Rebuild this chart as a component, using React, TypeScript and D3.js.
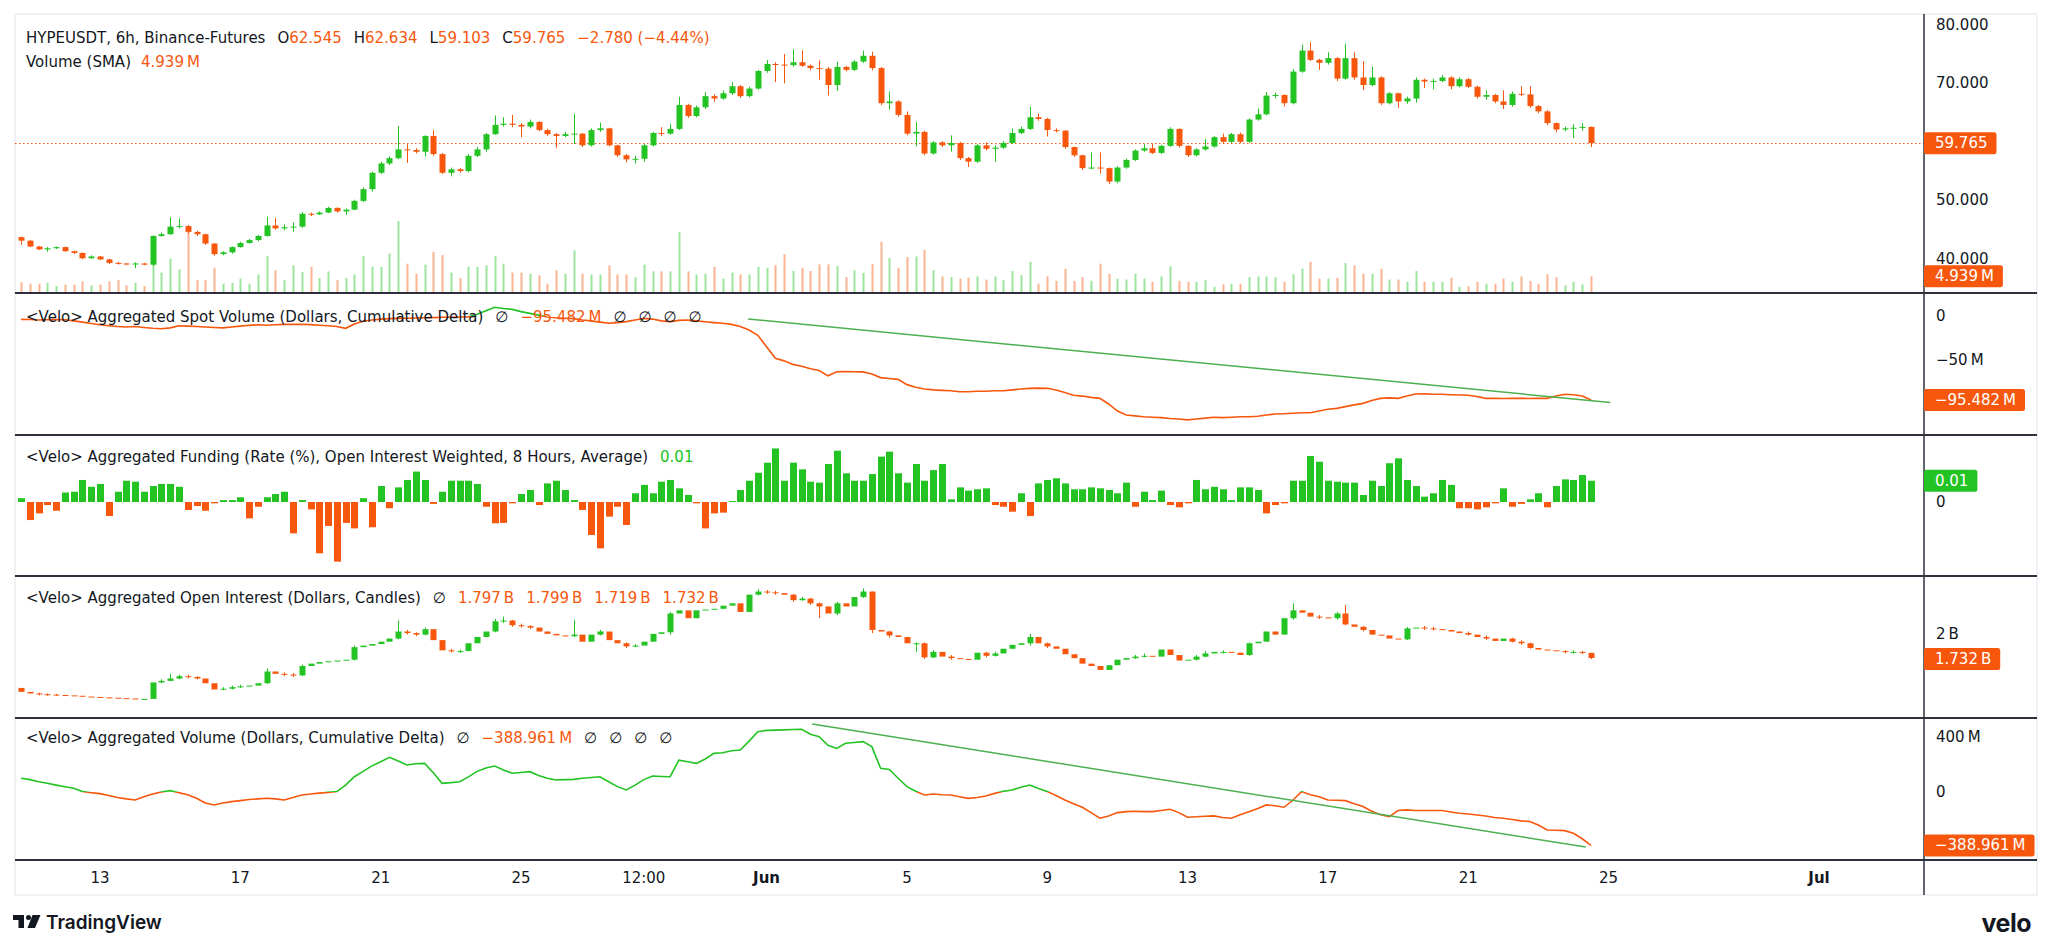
import React from "react";
import * as d3 from "d3";

// ---------------- DATA ----------------
const START_UTC = Date.UTC(2025, 4, 10, 18); // first 6h candle
const BAR_MS = 6 * 3600 * 1000;

const PRICE_OPEN0 = 43.7;
const PRICE_CLOSE = [
  43.1, 42.1, 41.6, 41.8, 42.0, 41.3, 41.0, 40.1, 40.4, 39.9,
  39.3, 39.2, 39.1, 39.2, 39.0, 43.9, 44.2, 45.5, 45.6, 44.6,
  44.2, 42.6, 40.8, 41.1, 42.0, 42.7, 43.2, 43.9, 45.7, 45.2,
  45.4, 45.5, 47.7, 47.6, 47.9, 48.7, 48.1, 48.4, 49.9, 51.9,
  54.7, 56.3, 57.2, 58.7, 58.6, 58.3, 61.0, 57.9, 54.7, 55.3,
  55.0, 57.6, 58.7, 61.3, 62.9, 63.1, 62.9, 62.6, 63.4, 62.0,
  61.3, 61.0, 61.3, 61.4, 59.4, 62.0, 62.3, 59.4, 57.7, 57.0,
  57.1, 59.4, 61.5, 61.4, 62.2, 66.3, 64.4, 65.9, 67.8, 67.4,
  68.3, 69.5, 67.8, 69.1, 72.1, 73.3, 73.2, 73.1, 73.6, 73.0,
  72.6, 72.5, 69.7, 72.8, 72.3, 73.7, 74.7, 72.6, 66.6, 66.9,
  64.6, 61.4, 61.7, 58.0, 59.9, 59.4, 59.8, 57.2, 56.6, 59.4,
  58.8, 59.0, 59.8, 61.5, 62.2, 64.2, 63.9, 62.0, 61.9, 59.1,
  57.7, 55.5, 55.6, 55.5, 53.2, 55.6, 56.9, 58.5, 58.9, 58.1,
  59.3, 62.2, 59.3, 57.7, 58.7, 59.2, 60.8, 60.0, 61.3, 60.0,
  63.8, 64.7, 67.9, 68.0, 66.6, 72.0, 75.6, 74.0, 73.5, 74.3,
  70.8, 74.3, 71.0, 69.7, 71.0, 66.6, 68.3, 66.9, 67.4, 70.6,
  70.3, 70.4, 71.0, 69.5, 70.7, 69.4, 67.7, 68.0, 66.9, 66.3,
  68.2, 68.1, 66.1, 65.2, 63.2, 62.1, 62.3, 62.4, 62.545, 59.765,
];
const PRICE_HIGH = [
  43.8, 43.2, 42.2, 42.0, 42.1, 42.1, 41.4, 41.1, 40.6, 40.5,
  40.0, 39.5, 39.3, 39.4, 39.3, 44.0, 44.5, 47.1, 46.9, 45.8,
  44.8, 44.3, 42.7, 41.3, 42.1, 42.9, 43.4, 44.1, 47.2, 47.0,
  45.9, 46.2, 48.0, 47.9, 48.1, 48.9, 48.8, 48.6, 50.1, 52.2,
  54.9, 56.6, 57.5, 62.7, 59.6, 58.9, 61.1, 62.0, 58.1, 55.6,
  55.5, 57.9, 59.1, 61.5, 64.5, 64.2, 64.6, 63.2, 63.8, 63.5,
  62.2, 61.5, 61.7, 64.8, 61.5, 62.3, 63.3, 62.4, 59.5, 57.9,
  57.6, 59.6, 61.7, 62.5, 63.1, 67.7, 66.5, 66.2, 68.5, 68.1,
  68.8, 70.2, 69.7, 69.4, 72.3, 74.0, 73.6, 75.0, 75.8, 75.6,
  73.2, 73.9, 72.8, 73.7, 73.0, 74.0, 75.6, 75.4, 72.8, 68.6,
  67.1, 65.2, 63.4, 61.9, 60.1, 60.1, 61.1, 60.0, 57.4, 59.6,
  59.9, 59.4, 60.1, 62.3, 62.6, 66.0, 64.8, 64.1, 62.3, 62.0,
  59.2, 57.8, 58.2, 58.2, 55.6, 55.8, 57.1, 58.7, 59.6, 59.7,
  59.5, 62.5, 62.3, 59.4, 58.9, 60.5, 61.0, 61.4, 61.5, 61.6,
  64.0, 65.7, 68.5, 68.4, 68.1, 72.4, 76.6, 77.0, 74.2, 75.3,
  74.5, 76.8, 75.3, 73.8, 72.8, 71.2, 68.5, 68.4, 67.7, 71.0,
  70.8, 70.8, 71.4, 71.2, 71.0, 70.9, 69.6, 68.8, 68.2, 68.8,
  68.6, 69.5, 69.5, 66.3, 65.4, 63.3, 62.6, 63.0, 63.2, 62.634,
];
const PRICE_LOW = [
  42.4, 42.0, 41.5, 41.2, 41.7, 41.2, 40.8, 39.9, 40.0, 39.8,
  39.1, 39.0, 38.9, 38.4, 38.9, 38.8, 43.8, 44.1, 45.2, 44.3,
  43.9, 42.4, 40.5, 40.6, 40.9, 41.9, 42.6, 43.0, 43.8, 45.0,
  44.9, 44.6, 45.3, 47.3, 47.5, 47.8, 47.9, 47.5, 48.3, 49.7,
  51.5, 54.5, 56.0, 57.0, 56.4, 58.0, 57.5, 57.6, 54.5, 54.1,
  54.7, 54.8, 57.4, 58.3, 61.2, 62.6, 62.5, 60.8, 62.3, 61.8,
  61.0, 59.0, 60.8, 59.6, 59.1, 59.2, 61.7, 59.2, 57.4, 56.5,
  56.3, 56.6, 59.2, 61.0, 61.2, 62.0, 64.1, 64.2, 65.6, 66.8,
  67.2, 68.0, 67.5, 67.6, 68.9, 71.8, 70.2, 70.0, 72.8, 72.8,
  72.2, 70.6, 67.9, 68.7, 72.0, 72.1, 73.5, 72.2, 66.3, 65.5,
  64.3, 61.1, 59.2, 57.7, 57.8, 59.1, 58.3, 56.9, 55.7, 56.4,
  58.5, 56.6, 58.8, 59.6, 61.3, 62.0, 63.6, 60.9, 61.6, 58.8,
  57.4, 55.2, 55.3, 54.6, 52.8, 52.9, 55.4, 56.7, 58.3, 57.9,
  57.9, 59.1, 59.0, 57.4, 57.5, 58.5, 59.0, 59.8, 59.8, 59.8,
  59.8, 63.6, 64.5, 67.4, 66.0, 66.4, 71.8, 73.8, 72.3, 73.2,
  70.4, 70.6, 70.6, 68.8, 69.5, 66.3, 66.4, 65.8, 66.5, 66.7,
  69.2, 69.0, 70.2, 69.0, 69.3, 69.2, 67.4, 67.2, 66.6, 65.6,
  66.0, 67.8, 65.8, 64.9, 62.8, 61.6, 61.8, 60.6, 61.9, 59.103,
];
const VOLUME_M = [
  3.1, 2.6, 2.6, 2.9, 1.9, 2.3, 2.3, 3.4, 2.1, 2.3,
  3.4, 3.7, 2.1, 2.9, 1.9, 9.2, 6.1, 10.5, 7.1, 18.9,
  3.7, 3.7, 7.6, 2.6, 2.9, 4.2, 2.6, 5.5, 11.3, 6.8,
  3.7, 8.4, 6.3, 7.9, 4.4, 6.5, 3.7, 4.4, 5.5, 11.3,
  7.9, 7.9, 12.1, 22.3, 8.9, 5.8, 8.6, 12.6, 11.6, 6.1,
  4.4, 7.9, 7.9, 8.4, 11.3, 8.9, 6.1, 6.1, 5.8, 5.3,
  2.6, 6.8, 5.8, 13.1, 5.8, 5.5, 5.5, 8.4, 5.5, 5.5,
  4.7, 8.6, 6.5, 6.5, 6.5, 18.9, 6.5, 5.5, 5.8, 7.9,
  4.2, 6.1, 5.5, 5.5, 7.9, 7.6, 8.4, 11.9, 6.6, 7.6,
  6.6, 8.7, 8.7, 8.2, 4.7, 6.8, 6.0, 8.8, 15.8, 10.7,
  7.6, 11.0, 11.2, 13.2, 6.8, 4.9, 4.7, 4.2, 4.5, 4.9,
  3.9, 4.9, 3.7, 6.6, 5.3, 9.5, 2.6, 4.9, 3.5, 7.3,
  3.5, 4.7, 3.5, 8.9, 5.8, 4.2, 3.9, 5.8, 4.2, 3.2,
  4.9, 8.1, 3.5, 3.2, 3.2, 3.7, 1.6, 2.4, 2.6, 2.6,
  4.7, 4.9, 4.9, 4.7, 3.2, 5.6, 7.3, 9.5, 4.2, 4.2,
  4.5, 9.1, 8.4, 5.8, 5.8, 7.3, 3.9, 3.9, 3.2, 6.6,
  3.2, 3.2, 3.2, 4.5, 1.6, 1.8, 3.2, 2.6, 2.6, 4.2,
  3.2, 4.9, 3.5, 2.6, 5.6, 4.7, 2.1, 3.2, 2.4, 4.939,
];
const SPOT_CVD_M = [
  -3.8, -4.0, -4.5, -4.2, -4.0, -4.2, -5.5, -7.0, -8.5, -10.0,
  -11.0, -12.0, -12.5, -12.0, -13.0, -14.0, -14.5, -13.5, -11.0, -11.5,
  -12.0, -12.5, -13.0, -13.5, -12.5, -11.5, -10.6, -10.0, -10.5, -10.0,
  -9.5, -9.5, -9.3, -9.8, -10.5, -11.0, -12.0, -14.0, -9.0, -6.0,
  -4.5, -3.5, -3.0, -2.7, -2.5, -2.2, -2.0, -1.8, -1.5, -1.5,
  -1.2, -1.0, 2.0, 6.0, 10.0, 8.5, 7.5, 5.0, 3.0, 1.0,
  -1.0, -2.0, -2.5, -3.0, -4.5, -5.5, -7.0, -8.3, -7.5, -6.4,
  -4.5, -2.7, -3.5, -5.5, -6.4, -5.0, -4.5, -5.5, -6.5, -7.5,
  -8.3, -9.5, -12.0, -16.0, -22.0, -35.0, -48.0, -51.0, -55.0, -57.0,
  -60.0, -62.0, -68.0, -63.3, -63.0, -63.3, -63.5, -66.0, -70.0, -71.0,
  -72.0, -78.0, -81.0, -83.0, -84.0, -84.5, -85.0, -86.0, -86.0, -85.5,
  -85.5, -85.0, -84.9, -84.0, -83.0, -82.2, -82.0, -82.2, -84.0, -87.0,
  -90.0, -91.0, -92.5, -93.6, -100.0, -108.0, -112.6, -113.5, -114.5, -115.0,
  -115.5, -116.5, -117.0, -118.0, -117.0, -116.0, -115.0, -115.5, -115.0, -114.5,
  -114.5, -114.0, -112.5, -111.4, -111.0, -110.5, -110.0, -110.0, -108.0, -106.0,
  -105.0, -103.0, -101.0, -99.3, -96.0, -93.6, -93.0, -93.6, -91.0, -88.7,
  -88.5, -89.0, -89.0, -89.5, -89.8, -90.0, -91.5, -93.6, -93.5, -93.8,
  -93.6, -93.5, -93.7, -93.6, -93.6, -91.0, -89.0, -89.5, -91.0, -95.482,
];
const SPOT_TREND_TIME = ["2025-05-31T11:24:00Z", "2025-06-25T01:12:00Z"];
const SPOT_TREND_VALUE = [-3.4, -98.3];

const FUNDING = [
  0.002, -0.0095, -0.006, -0.0016, -0.0046, 0.005, 0.0054, 0.0116, 0.008, 0.0095,
  -0.0074, 0.0054, 0.0112, 0.0107, 0.0054, 0.0084, 0.0095, 0.0095, 0.008, -0.0042,
  -0.0021, -0.0046, -0.0007, 0.001, 0.001, 0.0025, -0.0086, -0.0025, 0.0025, 0.0042,
  0.0054, -0.0165, 0.001, -0.0039, -0.027, -0.0126, -0.0314, -0.011, -0.0139, 0.002,
  -0.0133, 0.0084, -0.0033, 0.0077, 0.0116, 0.016, 0.0116, -0.001, 0.0054, 0.0112,
  0.0112, 0.0112, 0.0095, -0.0025, -0.0112, -0.011, -0.0007, 0.0042, 0.0063, -0.0016,
  0.0098, 0.0112, 0.0063, 0.001, -0.0042, -0.0174, -0.0244, -0.0077, -0.0025, -0.0121,
  0.0046, 0.009, 0.0046, 0.0107, 0.0116, 0.0072, 0.0037, -0.0007, -0.0139, -0.006,
  -0.0056, 0.0005, 0.0063, 0.0112, 0.0154, 0.0207, 0.0282, 0.0112, 0.0207, 0.0172,
  0.0107, 0.0102, 0.02, 0.027, 0.0151, 0.0112, 0.0112, 0.0147, 0.0239, 0.0265,
  0.0151, 0.0102, 0.02, 0.0112, 0.0168, 0.02, 0.0014, 0.0077, 0.006, 0.0067,
  0.0072, -0.0016, -0.0025, -0.0051, 0.0046, -0.0074, 0.0098, 0.0116, 0.0125, 0.0098,
  0.0067, 0.0067, 0.0077, 0.0072, 0.0063, 0.0046, 0.0102, -0.0025, 0.0054, 0.001,
  0.006, -0.0016, -0.0028, -0.0007, 0.0116, 0.0067, 0.008, 0.0067, 0.001, 0.0077,
  0.0077, 0.0063, -0.006, -0.0016, -0.0007, 0.0112, 0.0112, 0.0242, 0.0212, 0.0112,
  0.0107, 0.0102, 0.0102, 0.0037, 0.0112, 0.0084, 0.0204, 0.023, 0.0116, 0.0084,
  0.0028, 0.0046, 0.0116, 0.009, -0.0033, -0.0033, -0.0039, -0.0028, -0.0007, 0.0072,
  -0.0025, -0.001, 0.0014, 0.0046, -0.0028, 0.0084, 0.0119, 0.0116, 0.0142, 0.0112,
];

const OI_OPEN0 = 1.35;
const OI_CLOSE_B = [
  1.3, 1.28, 1.27, 1.265, 1.26, 1.255, 1.25, 1.24, 1.235, 1.23,
  1.225, 1.22, 1.215, 1.21, 1.21, 1.42, 1.44, 1.47, 1.5, 1.49,
  1.47, 1.41, 1.33, 1.34, 1.36, 1.37, 1.38, 1.41, 1.56, 1.53,
  1.52, 1.51, 1.63, 1.66, 1.68, 1.69, 1.7, 1.71, 1.87, 1.89,
  1.91, 1.94, 1.98, 2.07, 2.05, 2.03, 2.1, 1.96, 1.83, 1.82,
  1.82, 1.92, 2.0, 2.07, 2.2, 2.21, 2.15, 2.14, 2.12, 2.07,
  2.04, 2.02, 2.01, 2.03, 1.94, 2.03, 2.07, 1.96, 1.92, 1.88,
  1.89, 1.94, 2.04, 2.06, 2.3, 2.34, 2.24, 2.34, 2.35, 2.36,
  2.4, 2.43, 2.32, 2.54, 2.58, 2.57, 2.56, 2.54, 2.47, 2.49,
  2.43, 2.39, 2.3, 2.43, 2.39, 2.51, 2.58, 2.09, 2.07, 2.02,
  2.0, 1.92, 1.92, 1.74, 1.81, 1.75, 1.73, 1.72, 1.71, 1.8,
  1.76, 1.79, 1.85, 1.9, 1.92, 2.0, 1.92, 1.88, 1.85, 1.78,
  1.73, 1.66, 1.63, 1.58, 1.64, 1.71, 1.73, 1.75, 1.76, 1.75,
  1.84, 1.77, 1.7, 1.71, 1.75, 1.79, 1.81, 1.81, 1.8, 1.77,
  1.92, 1.94, 2.07, 2.03, 2.24, 2.34, 2.31, 2.26, 2.25, 2.24,
  2.3, 2.16, 2.13, 2.09, 2.03, 2.02, 1.98, 1.97, 2.11, 2.12,
  2.11, 2.1, 2.09, 2.07, 2.05, 2.03, 2.0, 1.98, 1.95, 1.98,
  1.94, 1.92, 1.86, 1.84, 1.83, 1.82, 1.81, 1.81, 1.797, 1.732,
];
// visible wicks only: [candle index, high, low]
const OI_WICKS: [number, number, number][] = [
  [2, 1.29, 1.255], [3, 1.28, 1.25], [4, 1.275, 1.25], [16, 1.46, 1.41], [17, 1.53, 1.44],
  [18, 1.52, 1.46], [19, 1.52, 1.47], [20, 1.5, 1.46], [23, 1.36, 1.32], [24, 1.38, 1.33],
  [25, 1.39, 1.35], [28, 1.6, 1.4], [30, 1.55, 1.5], [31, 1.54, 1.49], [32, 1.65, 1.5],
  [38, 1.89, 1.7], [43, 2.21, 1.97], [44, 2.09, 2.03], [45, 2.06, 2.01], [46, 2.12, 2.02],
  [49, 1.85, 1.8], [50, 1.84, 1.8], [54, 2.23, 2.06], [55, 2.26, 2.18], [56, 2.22, 2.13],
  [57, 2.17, 2.12], [58, 2.15, 2.1], [63, 2.22, 2.0], [66, 2.09, 2.02], [69, 1.93, 1.86],
  [70, 1.91, 1.87], [74, 2.32, 2.03], [84, 2.61, 2.53], [85, 2.6, 2.55], [86, 2.59, 2.54],
  [88, 2.55, 2.45], [89, 2.51, 2.46], [90, 2.5, 2.41], [91, 2.44, 2.24], [93, 2.45, 2.28],
  [96, 2.62, 2.5], [97, 2.58, 2.05], [99, 2.08, 1.99], [102, 1.93, 1.81], [103, 1.93, 1.72],
  [104, 1.83, 1.73], [106, 1.77, 1.71], [110, 1.81, 1.74], [111, 1.81, 1.75], [115, 2.04, 1.89],
  [117, 1.93, 1.86], [127, 1.77, 1.72], [128, 1.79, 1.74], [134, 1.77, 1.7], [135, 1.82, 1.74],
  [137, 1.83, 1.79], [140, 1.93, 1.76], [145, 2.43, 2.22], [148, 2.28, 2.23], [150, 2.32, 2.22],
  [151, 2.41, 2.15], [153, 2.14, 2.07], [158, 2.13, 1.96], [160, 2.14, 2.09], [161, 2.13, 2.08],
  [165, 2.07, 2.02], [167, 2.02, 1.96], [170, 1.99, 1.93], [171, 1.96, 1.9], [172, 1.93, 1.85],
  [176, 1.83, 1.79], [177, 1.83, 1.79], [178, 1.82, 1.78], [179, 1.799, 1.719],
];

const AGG_CVD_M = [
  100, 90, 75, 63, 50, 38, 27, 3, -5, -12,
  -25, -40, -50, -58, -35, -14, 0, 10, -5, -20,
  -45, -80, -94, -80, -70, -63, -55, -50, -46, -50,
  -58, -40, -22, -15, -8, -3, 3, 50, 111, 150,
  190, 220, 252, 225, 196, 205, 208, 140, 63, 68,
  75, 110, 150, 175, 189, 160, 136, 142, 148, 120,
  100, 87, 90, 92, 100, 105, 111, 75, 39, 15,
  50, 90, 116, 113, 111, 232, 220, 208, 240, 281,
  285, 300, 305, 370, 439, 448, 450, 452, 455, 456,
  420, 402, 340, 317, 354, 360, 366, 330, 172, 164,
  100, 39, 5, -22, -15, -20, -22, -35, -46, -40,
  -29, -10, 5, 14.5, 35, 51, 25, 3, -25, -58,
  -85, -111, -150, -191, -175, -150, -143, -140, -143, -143,
  -135, -126, -150, -184, -180, -176, -174, -185, -191, -165,
  -143, -120, -94, -100, -111, -60, 3, -20, -34, -58,
  -60, -63, -85, -106, -140, -165, -179, -135, -130, -135,
  -135, -135, -135, -145, -155, -160, -167, -175, -185, -191,
  -200, -210, -215, -240, -276, -278, -281, -300, -340, -388.961,
];
const AGG_TREND_TIME = ["2025-06-02T07:12:00Z", "2025-06-24T08:24:00Z"];
const AGG_TREND_VALUE = [494, -400];

const X_TICK_TIME = [
  "2025-05-13T00:00:00Z", "2025-05-17T00:00:00Z", "2025-05-21T00:00:00Z", "2025-05-25T00:00:00Z",
  "2025-05-28T12:00:00Z", "2025-06-01T00:00:00Z", "2025-06-05T00:00:00Z", "2025-06-09T00:00:00Z",
  "2025-06-13T00:00:00Z", "2025-06-17T00:00:00Z", "2025-06-21T00:00:00Z", "2025-06-25T00:00:00Z",
  "2025-07-01T00:00:00Z",
];
const X_TICK_LABEL = ["13", "17", "21", "25", "12:00", "Jun", "5", "9", "13", "17", "21", "25", "Jul"];

// ticks that are not hidden behind the last-value labels
const PRICE_TICKS = [40, 50, 70, 80];
const SPOT_TICKS = [0, -50];
const FUND_TICKS = [0];
const OI_TICKS = [2];
const AGG_TICKS = [400, 0];

// ---------------- STYLE ----------------
const FONT = "'DejaVu Sans', Verdana, sans-serif";
const GREEN = "#22c322";
const ORANGE = "#f7570d";
const TEXT = "#131722";
const SEP = "#2f323d";

const PLOT_LEFT = 15;
const AXIS_X = 1924;
const FRAME_RIGHT = 2037;
const MAIN = [14, 293];
const SPOT = [293, 435];
const FUND = [435, 576];
const OIP = [576, 718];
const AGG = [718, 860];

let measureCtx: CanvasRenderingContext2D | null = null;
function measure(s: string, size = 15, weight: string | number = "normal") {
  if (!measureCtx && typeof document !== "undefined") {
    measureCtx = document.createElement("canvas").getContext("2d");
  }
  if (!measureCtx) return s.length * size * 0.6;
  measureCtx.font = `${weight} ${size}px 'DejaVu Sans'`;
  return measureCtx.measureText(s).width;
}

const MINUS = "\u2212";
const NNBSP = "\u202F";
const sgn = (v: number) => (v < 0 ? MINUS : "");
const fmtUnit = (v: number, unit: string, dec = 3) =>
  v === 0 ? "0" : `${sgn(v)}${Math.abs(v).toFixed(dec)}${NNBSP}${unit}`;
const fmtTickUnit = (v: number, unit: string) =>
  v === 0 ? "0" : `${sgn(v)}${Math.abs(v)}${NNBSP}${unit}`;

type Part = { t: string; c?: string; gap?: number };
function Legend({ x, y, parts }: { x: number; y: number; parts: Part[] }) {
  let cx = x;
  const items = parts.map((p, k) => {
    cx += p.gap ?? 0;
    const el = (
      <text key={k} x={cx} y={y} fill={p.c ?? TEXT}>
        {p.t}
      </text>
    );
    cx += measure(p.t);
    return el;
  });
  return (
    <g fontFamily={FONT} fontSize={15}>
      {items}
    </g>
  );
}

function AxisLabel({ y, text, bg }: { y: number; text: string; bg: string }) {
  const w = measure(text) + 20;
  return (
    <g>
      <rect x={AXIS_X} y={y - 11} width={w} height={22} rx={2.5} fill={bg} />
      <text x={AXIS_X + 11} y={y} dominantBaseline="central" fill="#ffffff" fontFamily={FONT} fontSize={15}>
        {text}
      </text>
    </g>
  );
}

function Ticks({ vals, y, fmt, bounds }: { vals: number[]; y: (v: number) => number; fmt: (v: number) => string; bounds: number[] }) {
  return (
    <g fontFamily={FONT} fontSize={15} fill={TEXT}>
      {vals
        .filter((v) => y(v) > bounds[0] + 8 && y(v) < bounds[1] - 8)
        .map((v) => (
          <text key={v} x={AXIS_X + 12} y={y(v)} dominantBaseline="central">
            {fmt(v)}
          </text>
        ))}
    </g>
  );
}

function Candles({
  xs, y, open0, close, high, low, bodyW = 6,
}: {
  xs: (i: number) => number; y: (v: number) => number; open0: number; close: number[];
  high: (number | null)[]; low: (number | null)[]; bodyW?: number;
}) {
  return (
    <g>
      {close.map((c, i) => {
        const o = i === 0 ? open0 : close[i - 1];
        const up = c >= o;
        const col = up ? GREEN : ORANGE;
        const cx = Math.round(xs(i));
        const yTop = y(Math.max(o, c));
        const yBot = y(Math.min(o, c));
        const h = Math.max(1, yBot - yTop);
        const hi = high[i];
        const lo = low[i];
        return (
          <g key={i}>
            {hi != null && lo != null && (
              <line x1={cx + 0.5} x2={cx + 0.5} y1={y(hi)} y2={y(lo)} stroke={col} strokeWidth={1} />
            )}
            <rect x={cx + 0.5 - bodyW / 2} y={yTop} width={bodyW} height={h} fill={col} />
          </g>
        );
      })}
    </g>
  );
}

function CvdLine({
  id, xs, y, values, bounds,
}: { id: string; xs: (i: number) => number; y: d3.ScaleLinear<number, number>; values: number[]; bounds: number[] }) {
  const zero = y(0);
  const d = d3
    .line<number>()
    .x((_, i) => xs(i))
    .y((v) => y(v))(values) as string;
  return (
    <g>
      <clipPath id={id + "P"}>
        <rect x={PLOT_LEFT} y={bounds[0]} width={AXIS_X - PLOT_LEFT} height={Math.max(0, zero - bounds[0])} />
      </clipPath>
      <clipPath id={id + "N"}>
        <rect x={PLOT_LEFT} y={zero} width={AXIS_X - PLOT_LEFT} height={Math.max(0, bounds[1] - zero)} />
      </clipPath>
      <path d={d} fill="none" stroke={GREEN} strokeWidth={1.6} clipPath={`url(#${id}P)`} />
      <path d={d} fill="none" stroke={ORANGE} strokeWidth={1.6} clipPath={`url(#${id}N)`} />
    </g>
  );
}

export default function App() {
  const n = PRICE_CLOSE.length;
  const t = (i: number) => new Date(START_UTC + i * BAR_MS);
  const x = d3.scaleUtc().domain([t(0), t(n - 1)]).range([21.1, 1591]);
  const xs = (i: number) => x(t(i));

  const priceY = d3.scaleLinear().domain([40, 80]).range([258.8, 24.8]);
  const volY = d3.scaleLinear().domain([0, 4.939]).range([292, 276.3]);
  const spotY = d3.scaleLinear().domain([-50, 0]).range([360, 316]);
  const fundY = d3.scaleLinear().domain([0, 0.01]).range([502, 483]);
  const oiY = d3.scaleLinear().domain([1.732, 2]).range([658, 637]);
  const aggY = d3.scaleLinear().domain([0, 400]).range([792, 737]);

  const last = n - 1;
  const lastOpen = PRICE_CLOSE[last - 1];
  const lastClose = PRICE_CLOSE[last];
  const chg = lastClose - lastOpen;
  const chgPct = (chg / lastOpen) * 100;

  const oiHigh: (number | null)[] = OI_CLOSE_B.map(() => null);
  const oiLow: (number | null)[] = OI_CLOSE_B.map(() => null);
  OI_WICKS.forEach(([i, h, l]) => {
    oiHigh[i] = h;
    oiLow[i] = l;
  });
  const oiOpenLast = OI_CLOSE_B[last - 1];

  const clipRect = (id: string, b: number[]) => (
    <clipPath id={id}>
      <rect x={PLOT_LEFT} y={b[0]} width={AXIS_X - PLOT_LEFT} height={b[1] - b[0]} />
    </clipPath>
  );

  const spotTrendD = d3
    .line<number>()
    .x((_, k) => x(new Date(SPOT_TREND_TIME[k])))
    .y((v) => spotY(v))(SPOT_TREND_VALUE) as string;
  const aggTrendD = d3
    .line<number>()
    .x((_, k) => x(new Date(AGG_TREND_TIME[k])))
    .y((v) => aggY(v))(AGG_TREND_VALUE) as string;

  const lastFund = FUNDING[last];

  return (
    <svg
      width={2048}
      height={946}
      viewBox="0 0 2048 946"
      style={{ position: "absolute", left: 0, top: 0, background: "#ffffff" }}
    >
      <defs>
        {clipRect("cMain", MAIN)}
        {clipRect("cSpot", SPOT)}
        {clipRect("cFund", FUND)}
        {clipRect("cOi", OIP)}
        {clipRect("cAgg", AGG)}
      </defs>
      <rect x={0} y={0} width={2048} height={946} fill="#ffffff" />
      <rect x={PLOT_LEFT} y={14} width={FRAME_RIGHT - PLOT_LEFT} height={895 - 14} fill="none" stroke="#e0e3eb" strokeWidth={1} />

      {/* ---------- main panel ---------- */}
      <g clipPath="url(#cMain)">
        {VOLUME_M.map((v, i) => {
          const o = i === 0 ? PRICE_OPEN0 : PRICE_CLOSE[i - 1];
          const up = PRICE_CLOSE[i] >= o;
          const cx = Math.round(xs(i));
          return (
            <rect
              key={i}
              x={cx - 0.5}
              y={volY(v)}
              width={2}
              height={volY(0) - volY(v)}
              fill={up ? GREEN : ORANGE}
              opacity={0.45}
            />
          );
        })}
        <line
          x1={PLOT_LEFT}
          x2={AXIS_X}
          y1={Math.round(priceY(lastClose)) + 0.5}
          y2={Math.round(priceY(lastClose)) + 0.5}
          stroke={ORANGE}
          strokeWidth={1}
          strokeDasharray="1.5 2.5"
        />
        <Candles xs={xs} y={priceY} open0={PRICE_OPEN0} close={PRICE_CLOSE} high={PRICE_HIGH} low={PRICE_LOW} />
      </g>

      {/* ---------- spot CVD ---------- */}
      <g clipPath="url(#cSpot)">
        <CvdLine id="spot" xs={xs} y={spotY} values={SPOT_CVD_M} bounds={SPOT} />
        <path d={spotTrendD} stroke="#4caf50" strokeWidth={1.5} fill="none" />
      </g>

      {/* ---------- funding ---------- */}
      <g clipPath="url(#cFund)">
        {FUNDING.map((v, i) => {
          const cx = Math.round(xs(i));
          const y0 = fundY(0);
          const y1 = fundY(v);
          return (
            <rect
              key={i}
              x={cx + 0.5 - 3.5}
              y={Math.min(y0, y1)}
              width={7}
              height={Math.max(1, Math.abs(y1 - y0))}
              fill={v >= 0 ? GREEN : ORANGE}
            />
          );
        })}
      </g>

      {/* ---------- open interest ---------- */}
      <g clipPath="url(#cOi)">
        <Candles xs={xs} y={oiY} open0={OI_OPEN0} close={OI_CLOSE_B} high={oiHigh} low={oiLow} />
      </g>

      {/* ---------- aggregated CVD ---------- */}
      <g clipPath="url(#cAgg)">
        <CvdLine id="agg" xs={xs} y={aggY} values={AGG_CVD_M} bounds={AGG} />
        <path d={aggTrendD} stroke="#4caf50" strokeWidth={1.5} fill="none" />
      </g>

      {/* ---------- separators & axis line ---------- */}
      {[MAIN[1], SPOT[1], FUND[1], OIP[1], AGG[1]].map((yy) => (
        <line key={yy} x1={PLOT_LEFT} x2={FRAME_RIGHT} y1={yy} y2={yy} stroke={SEP} strokeWidth={2} />
      ))}
      <line x1={AXIS_X} x2={AXIS_X} y1={14} y2={895} stroke={SEP} strokeWidth={1.5} />

      {/* ---------- right axis ticks ---------- */}
      <Ticks vals={PRICE_TICKS} y={priceY} fmt={(v) => v.toFixed(3)} bounds={MAIN} />
      <Ticks vals={SPOT_TICKS} y={spotY} fmt={(v) => fmtTickUnit(v, "M")} bounds={SPOT} />
      <Ticks vals={FUND_TICKS} y={fundY} fmt={(v) => String(v)} bounds={FUND} />
      <Ticks vals={OI_TICKS} y={(v) => oiY(v) - 3} fmt={(v) => fmtTickUnit(v, "B")} bounds={OIP} />
      <Ticks vals={AGG_TICKS} y={aggY} fmt={(v) => fmtTickUnit(v, "M")} bounds={AGG} />

      {/* ---------- right axis value labels ---------- */}
      <AxisLabel y={priceY(lastClose)} text={lastClose.toFixed(3)} bg={ORANGE} />
      <AxisLabel y={volY(VOLUME_M[last])} text={fmtUnit(VOLUME_M[last], "M")} bg={ORANGE} />
      <AxisLabel y={spotY(SPOT_CVD_M[last])} text={fmtUnit(SPOT_CVD_M[last], "M")} bg={ORANGE} />
      <AxisLabel y={fundY(lastFund)} text={lastFund.toFixed(2)} bg={GREEN} />
      <AxisLabel y={oiY(OI_CLOSE_B[last]) + 1} text={fmtUnit(OI_CLOSE_B[last], "B")} bg={ORANGE} />
      <AxisLabel y={aggY(AGG_CVD_M[last])} text={fmtUnit(AGG_CVD_M[last], "M")} bg={ORANGE} />

      {/* ---------- legends ---------- */}
      <Legend
        x={26}
        y={42.5}
        parts={[
          { t: "HYPEUSDT, 6h, Binance-Futures" },
          { t: "O", gap: 12 },
          { t: lastOpen.toFixed(3), c: ORANGE },
          { t: "H", gap: 12 },
          { t: PRICE_HIGH[last].toFixed(3), c: ORANGE },
          { t: "L", gap: 12 },
          { t: PRICE_LOW[last].toFixed(3), c: ORANGE },
          { t: "C", gap: 12 },
          { t: lastClose.toFixed(3), c: ORANGE },
          { t: `${sgn(chg)}${Math.abs(chg).toFixed(3)} (${sgn(chgPct)}${Math.abs(chgPct).toFixed(2)}%)`, c: ORANGE, gap: 12 },
        ]}
      />
      <Legend
        x={26}
        y={67}
        parts={[
          { t: "Volume (SMA)" },
          { t: fmtUnit(VOLUME_M[last], "M"), c: ORANGE, gap: 10 },
        ]}
      />
      <Legend
        x={26}
        y={322}
        parts={[
          { t: "<Velo> Aggregated Spot Volume (Dollars, Cumulative Delta)" },
          { t: "\u2205", gap: 12 },
          { t: fmtUnit(SPOT_CVD_M[last], "M"), c: ORANGE, gap: 12 },
          { t: "\u2205", gap: 12 },
          { t: "\u2205", gap: 12 },
          { t: "\u2205", gap: 12 },
          { t: "\u2205", gap: 12 },
        ]}
      />
      <Legend
        x={26}
        y={462}
        parts={[
          { t: "<Velo> Aggregated Funding (Rate (%), Open Interest Weighted, 8 Hours, Average)" },
          { t: lastFund.toFixed(2), c: GREEN, gap: 12 },
        ]}
      />
      <Legend
        x={26}
        y={603}
        parts={[
          { t: "<Velo> Aggregated Open Interest (Dollars, Candles)" },
          { t: "\u2205", gap: 12 },
          { t: fmtUnit(oiOpenLast, "B"), c: ORANGE, gap: 12 },
          { t: fmtUnit(oiHigh[last] as number, "B"), c: ORANGE, gap: 12 },
          { t: fmtUnit(oiLow[last] as number, "B"), c: ORANGE, gap: 12 },
          { t: fmtUnit(OI_CLOSE_B[last], "B"), c: ORANGE, gap: 12 },
        ]}
      />
      <Legend
        x={26}
        y={743}
        parts={[
          { t: "<Velo> Aggregated Volume (Dollars, Cumulative Delta)" },
          { t: "\u2205", gap: 12 },
          { t: fmtUnit(AGG_CVD_M[last], "M"), c: ORANGE, gap: 12 },
          { t: "\u2205", gap: 12 },
          { t: "\u2205", gap: 12 },
          { t: "\u2205", gap: 12 },
          { t: "\u2205", gap: 12 },
        ]}
      />

      {/* ---------- time axis ---------- */}
      <g fontFamily={FONT} fontSize={15} fill={TEXT} textAnchor="middle">
        {X_TICK_TIME.map((s, k) => {
          const lbl = X_TICK_LABEL[k];
          const isMonth = /^[A-Za-z]/.test(lbl);
          return (
            <text key={k} x={x(new Date(s))} y={878} dominantBaseline="central" fontWeight={isMonth ? "bold" : "normal"}>
              {lbl}
            </text>
          );
        })}
      </g>

      {/* ---------- branding ---------- */}
      <g fill={TEXT}>
        <path d="M13 915 H24 V928 H18.5 V920 H13 Z" />
        <circle cx={28.5} cy={917.5} r={2.5} />
        <path d="M32.5 915 H40.5 L35 928 H27.5 Z" />
        <text x={46} y={928.5} fontFamily="Inter, 'Noto Sans', sans-serif" fontSize={19} fontWeight={600}>
          TradingView
        </text>
        <text
          x={2031}
          y={932}
          textAnchor="end"
          fontFamily="Inter, 'Noto Sans', sans-serif"
          fontSize={25}
          fontWeight={700}
          letterSpacing={-0.5}
        >
          velo
        </text>
      </g>
    </svg>
  );
}
